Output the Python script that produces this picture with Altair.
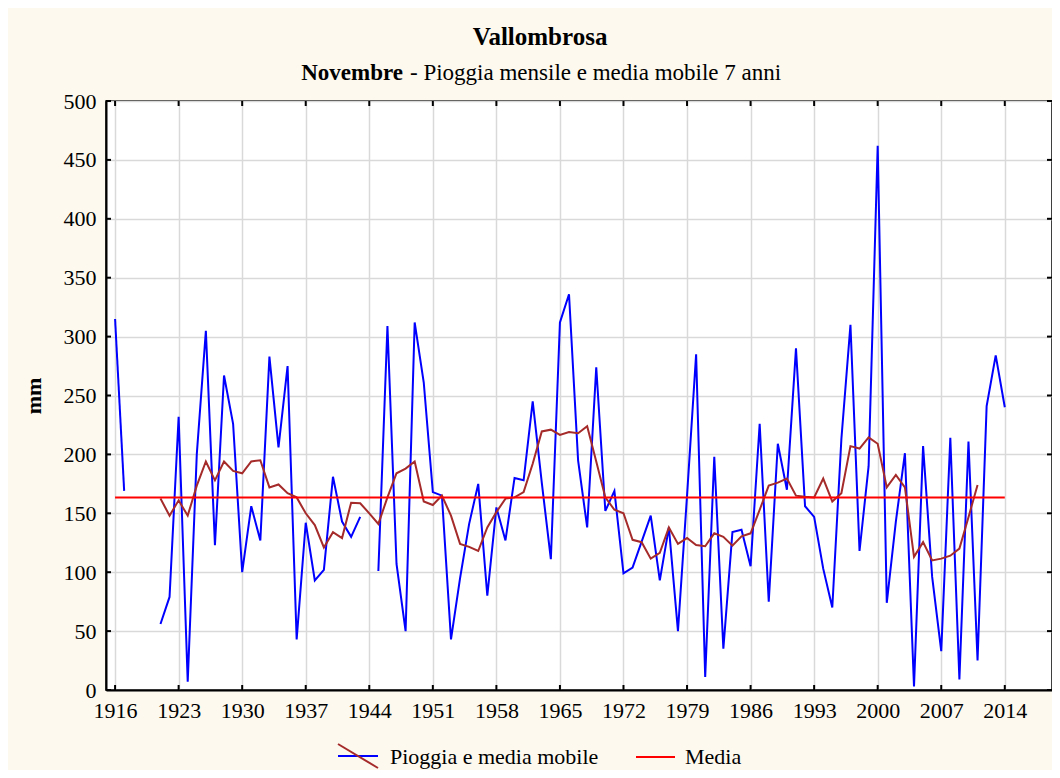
import altair as alt
import pandas as pd

years = list(range(1916, 2015))
rain = [315, 169, None, None, None, 56, 79, 232, 7, 200,
        305, 123, 267, 226, 100, 156, 127, 283, 206, 275,
        43, 142, 93, 102, 181, 143, 130, 147, None, 101,
        309, 107, 50, 312, 261, 168, 165, 43, 95, 141,
        175, 80, 155, 127, 180, 178, 245, 176, 111, 312,
        336, 195, 138, 274, 152, 169, 99, 104, 126, 148,
        93, 138, 50, 165, 285, 11, 198, 35, 134, 136,
        105, 226, 75, 209, 170, 290, 156, 147, 103, 70,
        213, 310, 118, 190, 462, 74, 143, 201, 3, 207,
        96, 33, 214, 9, 211, 25, 241, 284, 240]

ma_years = list(range(1921, 2012))
ma = [162.5, 148, 161, 148, 173.5, 194, 178, 194, 186, 184,
      194, 195, 172, 174.5, 167, 163.5, 150, 140, 121, 134,
      129, 159, 158.5, 150, 141, 163.5, 184, 188, 194, 160,
      157, 165, 148, 124, 121.5, 118, 138, 151, 162.5, 163.5,
      168, 192, 219.5, 221, 216.5, 219, 218, 224, 194, 163.5,
      153, 150, 127.5, 125.5, 111.5, 116.5, 138, 124, 129, 123,
      122, 133, 130, 122.5, 130.5, 133, 153, 173.5, 176, 179.5,
      165, 164, 163.5, 179.5, 160, 167, 207, 205, 214.5, 209,
      172, 182.5, 172, 113, 125.5, 110, 111.5, 114, 120, 146.7,
      174]

mean_value = 163.5
x_ticks = list(range(1916, 2015, 7))
y_ticks = list(range(0, 501, 50))

# split rain series into continuous segments (gaps where data missing)
segs = []
s = 0
prev_missing = True
for v in rain:
    if v is None:
        prev_missing = True
        segs.append(None)
    else:
        if prev_missing:
            s += 1
            prev_missing = False
        segs.append(s)

rain_df = pd.DataFrame({"year": years, "mm": rain, "seg": segs}).dropna()
ma_df = pd.DataFrame({"year": ma_years, "mm": ma})
mean_df = pd.DataFrame({"year": [years[0]], "year2": [years[-1]], "mm": [mean_value]})
xt_df = pd.DataFrame({"year": x_ticks})
yt_df = pd.DataFrame({"mm": y_ticks})
one = pd.DataFrame({"a": [0]})

W, H = 946, 589
FONT = "Liberation Serif, Times New Roman, serif"

xscale = alt.Scale(domain=[1915, 2019.2], nice=False, zero=False)
yscale = alt.Scale(domain=[0, 500], nice=False)

x_enc = alt.X("year:Q", scale=xscale,
              axis=alt.Axis(values=x_ticks, format="d", title=None,
                            labelFont=FONT, labelFontSize=22, labelColor="black",
                            tickSize=0, labelPadding=10, labelFlush=False,
                            grid=True, gridColor="#D9D9D9", gridWidth=1.5,
                            domainColor="black", domainWidth=2))
y_enc = alt.Y("mm:Q", scale=yscale,
              axis=alt.Axis(values=y_ticks, title="mm",
                            titleFont=FONT, titleFontSize=22, titleFontWeight="bold",
                            titleColor="black", titlePadding=18,
                            labelFont=FONT, labelFontSize=22, labelColor="black",
                            tickSize=0, labelPadding=10,
                            grid=True, gridColor="#D9D9D9", gridWidth=1.5,
                            domainColor="black", domainWidth=2))

rain_line = alt.Chart(rain_df).mark_line(color="#0000FF", strokeWidth=2).encode(
    x=x_enc, y=y_enc, detail="seg:N")

ma_line = alt.Chart(ma_df).mark_line(color="#A52A2A", strokeWidth=2).encode(
    x=x_enc, y=y_enc)

mean_line = alt.Chart(mean_df).mark_rule(color="#FF0000", strokeWidth=2).encode(
    x=x_enc, x2="year2:Q", y=y_enc)

# inward tick marks on all four sides
tick_bottom = alt.Chart(xt_df).mark_rule(color="black", strokeWidth=2).encode(
    x=alt.X("year:Q", scale=xscale), y=alt.value(H), y2=alt.value(H - 5))
tick_top = alt.Chart(xt_df).mark_rule(color="black", strokeWidth=2).encode(
    x=alt.X("year:Q", scale=xscale), y=alt.value(0), y2=alt.value(5))
tick_left = alt.Chart(yt_df).mark_rule(color="black", strokeWidth=2).encode(
    y=alt.Y("mm:Q", scale=yscale), x=alt.value(0), x2=alt.value(5))
tick_right = alt.Chart(yt_df).mark_rule(color="black", strokeWidth=2).encode(
    y=alt.Y("mm:Q", scale=yscale), x=alt.value(W - 5), x2=alt.value(W))

# titles
title1 = alt.Chart(one).mark_text(text="Vallombrosa", font=FONT, fontSize=25,
                                  fontWeight="bold", color="black",
                                  align="center", baseline="middle").encode(
    x=alt.value(434), y=alt.value(-64))
title2a = alt.Chart(one).mark_text(text="Novembre", font=FONT, fontSize=23,
                                   fontWeight="bold", color="black",
                                   align="right", baseline="middle").encode(
    x=alt.value(297), y=alt.value(-28))
title2b = alt.Chart(one).mark_text(text="- Pioggia mensile e media mobile 7 anni",
                                   font=FONT, fontSize=23, color="black",
                                   align="left", baseline="middle").encode(
    x=alt.value(304), y=alt.value(-28))

# legend
leg_blue = alt.Chart(one).mark_rule(color="#0000FF", strokeWidth=2).encode(
    x=alt.value(232), x2=alt.value(272), y=alt.value(655))
leg_ma = alt.Chart(one).mark_rule(color="#A52A2A", strokeWidth=2).encode(
    x=alt.value(232), x2=alt.value(272), y=alt.value(643), y2=alt.value(667))
leg_text1 = alt.Chart(one).mark_text(text="Pioggia e media mobile", font=FONT,
                                     fontSize=22, color="black", align="left",
                                     baseline="middle").encode(
    x=alt.value(284), y=alt.value(656))
leg_red = alt.Chart(one).mark_rule(color="#FF0000", strokeWidth=2).encode(
    x=alt.value(530), x2=alt.value(569), y=alt.value(656))
leg_text2 = alt.Chart(one).mark_text(text="Media", font=FONT,
                                     fontSize=22, color="black", align="left",
                                     baseline="middle").encode(
    x=alt.value(579), y=alt.value(656))

chart = alt.layer(
    rain_line, ma_line, mean_line,
    tick_bottom, tick_top, tick_left, tick_right,
    title1, title2a, title2b,
    leg_blue, leg_ma, leg_text1, leg_red, leg_text2
).properties(
    width=W, height=H,
    background="#FDF9EF",
    autosize=alt.AutoSizeParams(type="none"),
    padding={"left": 98, "top": 93, "right": 0, "bottom": 80}
).configure_view(
    fill="white", stroke="black", strokeWidth=1.5
)

chart.save("out.html", embed_options={"renderer": "svg", "actions": False})
